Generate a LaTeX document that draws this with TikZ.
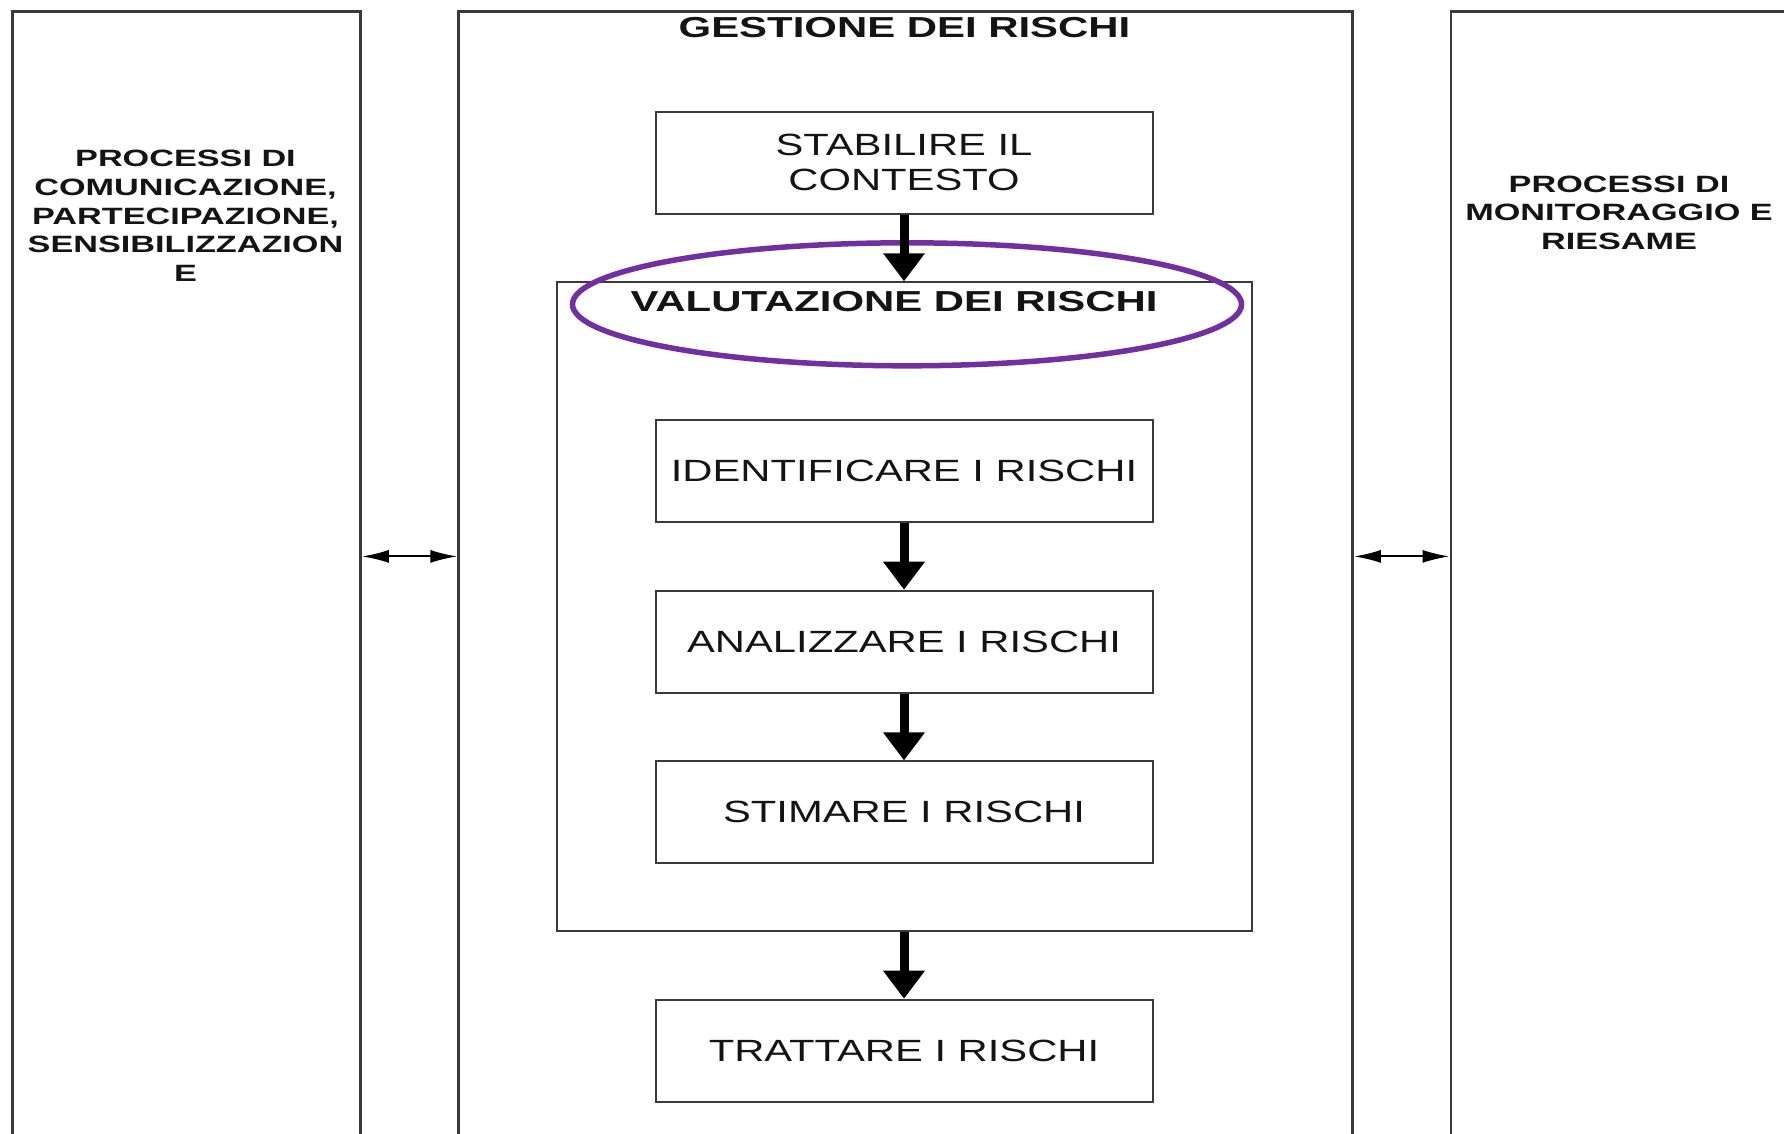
\documentclass[tikz,border=0pt]{standalone}
\usepackage{fontspec}
\setmainfont{Liberation Sans}[
  UprightFeatures={FakeStretch=1.36},
  BoldFeatures={FakeStretch=1.45}]
\usetikzlibrary{arrows.meta,shapes.geometric}
\definecolor{boxline}{HTML}{3A3A3A}
\definecolor{ink}{HTML}{141414}
\definecolor{ringpurple}{HTML}{7030A0}

\begin{document}
\begin{tikzpicture}[x=1pt,y=-1pt,
  panel/.style={draw=boxline, line width=2.4pt, inner sep=0pt, anchor=north west,
    minimum height=1160pt},
  stepbox/.style={draw=boxline, line width=2pt, inner sep=0pt, align=center,
    minimum width=497pt, minimum height=102pt, text=ink,
    font=\fontsize{30.7}{35}\selectfont},
  groupbox/.style={draw=boxline, line width=2pt, inner sep=0pt,
    minimum width=695pt, minimum height=648.5pt},
  headtext/.style={inner sep=0pt, text=ink, font=\bfseries\fontsize{28.9}{35}\selectfont},
  sidetext/.style={inner sep=0pt, align=center, text=ink,
    font=\bfseries\fontsize{23.6}{28.7}\selectfont},
  flow/.style={draw=black, line width=9pt, -{Triangle[length=28pt,width=40pt]}},
  twoway/.style={draw=black, line width=2pt,
    {Latex[length=27pt,width=13pt]}-{Latex[length=27pt,width=13pt]}},
  ring/.style={draw=ringpurple, line width=5.5pt, ellipse, inner sep=0pt}
]
\useasboundingbox (0,0) rectangle (1784,1133);
\fill[white] (0,0) rectangle (1784,1133);

% three vertical panels (open at the bottom of the page)
\node[panel, minimum width=348pt] (comm) at (11.4,10.2) {};
\node[panel, minimum width=894pt] (mgmt) at (457.4,10.2) {};
\node[panel, minimum width=338pt] (mon)  at (1449.6,10.2) {};

\node[sidetext] (commtext) at (185.5,216)
  {PROCESSI DI\\COMUNICAZIONE,\\PARTECIPAZIONE,\\SENSIBILIZZAZION\\E};
\node[sidetext] (montext) at (1619,212.6)
  {PROCESSI DI\\MONITORAGGIO E\\RIESAME};

\node[headtext] (mgmttitle) at (904.5,27.3) {GESTIONE DEI RISCHI};

% process steps
\node[stepbox] (context) at (904,162.7) {STABILIRE IL\\CONTESTO};
\node[groupbox] (assess) at (904,606.5) {};
\node[headtext] (assesstitle) at (894,301.5) {VALUTAZIONE DEI RISCHI};
\node[ring, minimum width=669pt, minimum height=123pt] (assessring) at (907,304.3) {};

\node[stepbox] (identify) at (904,471) {IDENTIFICARE I RISCHI};
\node[stepbox] (analyse)  at (904,641.7) {ANALIZZARE I RISCHI};
\node[stepbox] (estimate) at (904,812.4) {STIMARE I RISCHI};
\node[stepbox] (treat)    at (904,1050.7) {TRATTARE I RISCHI};

\draw[flow] (context.south) -- (assess.north);
\draw[flow] (identify.south) -- (analyse.north);
\draw[flow] (analyse.south) -- (estimate.north);
\draw[flow] (assess.south) -- (treat.north);

% exchanges between the side panels and the central one
\coordinate (linkrow) at (0,556.4);
\draw[twoway] (comm.east |- linkrow) -- (mgmt.west |- linkrow);
\draw[twoway] (mgmt.east |- linkrow) -- (mon.west |- linkrow);
\end{tikzpicture}
\end{document}
